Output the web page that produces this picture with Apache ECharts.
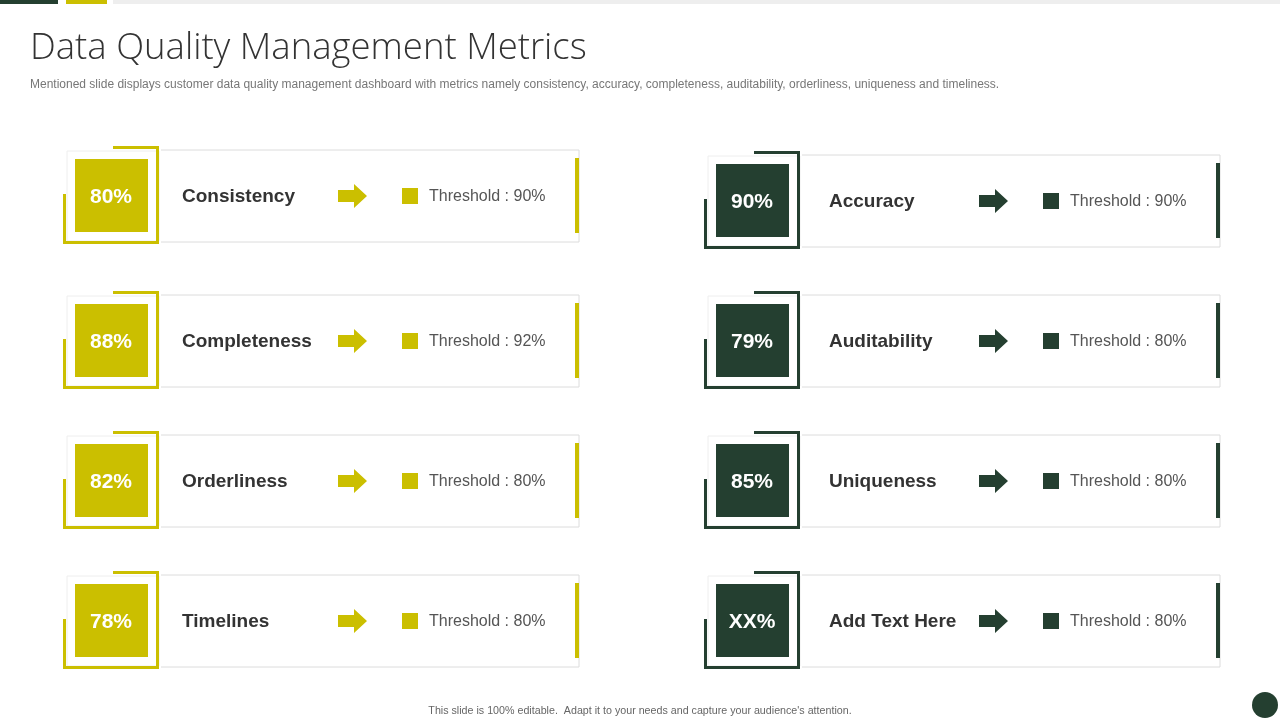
<!DOCTYPE html>
<html>
<head>
<meta charset="utf-8">
<script src="https://cdn.jsdelivr.net/npm/echarts@6/dist/echarts.min.js"></script>
<style>html,body{margin:0;padding:0;background:#fff}#chart{width:1280px;height:720px}</style>
</head>
<body>
<div id="chart"></div>
<script>
const leftNames = ['Consistency', 'Completeness', 'Orderliness', 'Timelines']
const leftValues = ['80%', '88%', '82%', '78%']
const leftThresholds = ['90%', '92%', '80%', '80%']
const rightNames = ['Accuracy', 'Auditability', 'Uniqueness', 'Add Text Here']
const rightValues = ['90%', '79%', '85%', 'XX%']
const rightThresholds = ['90%', '80%', '80%', '80%']

const YELLOW = '#CBBF00'
const GREEN = '#243F30'
const FONT = 'Liberation Sans, Arial, sans-serif'

const elements = []

// top strip
elements.push({type: 'rect', shape: {x: 0, y: 0, width: 58, height: 4}, style: {fill: GREEN}})
elements.push({type: 'rect', shape: {x: 66, y: 0, width: 41, height: 4}, style: {fill: YELLOW}})
elements.push({type: 'rect', shape: {x: 113, y: 0, width: 1167, height: 4}, style: {fill: '#eeeeee'}})

elements.push({type: 'text', x: 30, y: 49, style: {text: 'Data Quality Management Metrics', fill: '#333', font: '300 36.5px "Open Sans", sans-serif', textVerticalAlign: 'middle'}})
elements.push({type: 'text', x: 30, y: 85, style: {text: 'Mentioned slide displays customer data quality management dashboard with metrics namely consistency, accuracy, completeness, auditability, orderliness, uniqueness and timeliness.', fill: '#777', font: '12px ' + FONT, textVerticalAlign: 'middle'}})
elements.push({type: 'text', x: 640, y: 711, style: {text: "This slide is 100% editable.  Adapt it to your needs and capture your audience's attention.", fill: '#666', font: '10.7px ' + FONT, textAlign: 'center', textVerticalAlign: 'middle'}})
elements.push({type: 'circle', shape: {cx: 1265, cy: 705, r: 13}, style: {fill: GREEN}})

const card = (x0, cy, name, value, thr, color, nameOff) => {
  const top = cy - 46
  const bottom = cy + 46
  // card border
  elements.push({type: 'rect', shape: {x: x0 + 2, y: top, width: 512, height: 92}, style: {fill: '#fff', stroke: '#dcdcdc', lineWidth: 1}})
  // white area behind square frame
  elements.push({type: 'rect', shape: {x: x0, y: top - 3, width: 96, height: 98}, style: {fill: '#fff'}})
  elements.push({type: 'rect', shape: {x: x0 + 2, y: top + 1, width: 92, height: 90}, style: {fill: '#fff', stroke: '#eeeeee', lineWidth: 1}})
  // bracket frame
  elements.push({type: 'polyline', shape: {points: [[x0 + 48, top - 2.5], [x0 + 92.5, top - 2.5], [x0 + 92.5, bottom + 0.5], [x0 - 0.5, bottom + 0.5], [x0 - 0.5, cy - 2]]}, style: {stroke: color, lineWidth: 3, fill: null}})
  // value square
  elements.push({type: 'rect', shape: {x: x0 + 10, y: top + 9, width: 73, height: 73}, style: {fill: color}})
  elements.push({type: 'text', x: x0 + 46, y: cy + 1, style: {text: value, fill: '#fff', font: 'bold 21px ' + FONT, textAlign: 'center', textVerticalAlign: 'middle'}})
  elements.push({type: 'text', x: x0 + nameOff, y: cy + 1, style: {text: name, fill: '#333', font: 'bold 19px ' + FONT, textVerticalAlign: 'middle'}})
  // arrow
  const ax = x0 + 273
  elements.push({type: 'polygon', shape: {points: [[ax, cy - 6], [ax + 16, cy - 6], [ax + 16, cy - 12], [ax + 29, cy], [ax + 16, cy + 12], [ax + 16, cy + 6], [ax, cy + 6]]}, style: {fill: color}})
  elements.push({type: 'rect', shape: {x: x0 + 337, y: cy - 8, width: 16, height: 16}, style: {fill: color}})
  elements.push({type: 'text', x: x0 + 364, y: cy + 1, style: {text: 'Threshold : ' + thr, fill: '#555', font: '16px ' + FONT, textVerticalAlign: 'middle'}})
  // right accent bar
  elements.push({type: 'rect', shape: {x: x0 + 510, y: cy - 38, width: 4, height: 75}, style: {fill: color}})
}

const leftY = [196, 341, 481, 621]
const rightY = [201, 341, 481, 621]
leftNames.forEach((n, i) => card(65, leftY[i], n, leftValues[i], leftThresholds[i], YELLOW, 117))
rightNames.forEach((n, i) => card(706, rightY[i], n, rightValues[i], rightThresholds[i], GREEN, 123))

const chart = echarts.init(document.getElementById('chart'))
chart.setOption({
  animation: false,
  backgroundColor: '#fff',
  graphic: {elements: elements},
})
</script>
</body>
</html>
